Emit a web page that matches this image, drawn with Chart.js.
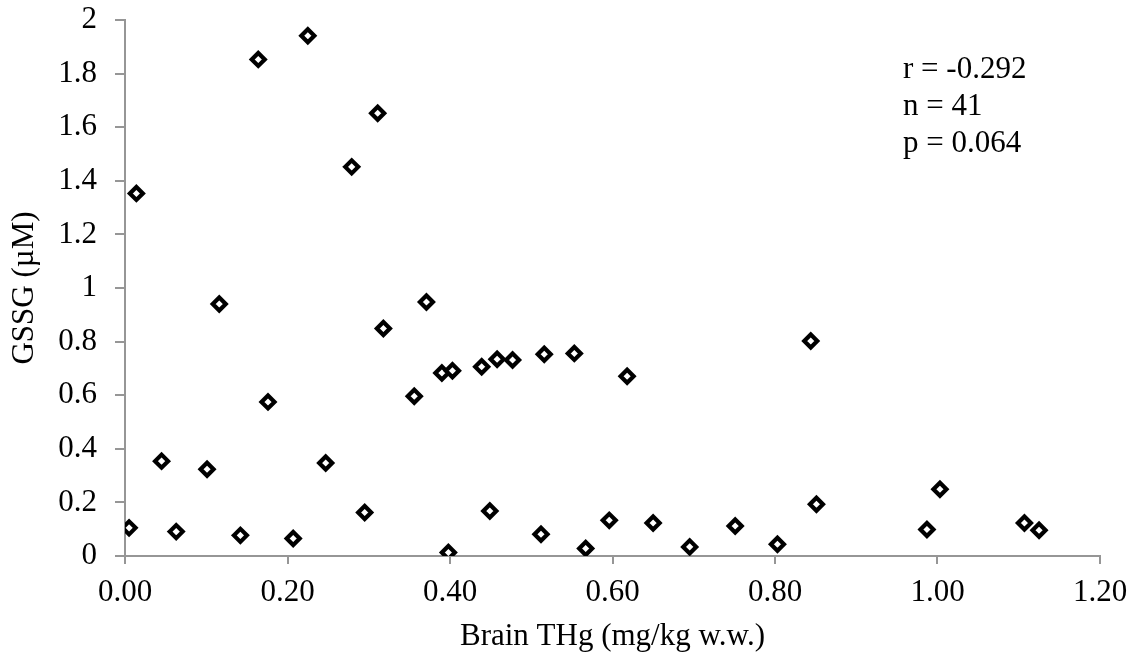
<!DOCTYPE html>
<html>
<head>
<meta charset="utf-8">
<script src="https://cdn.jsdelivr.net/npm/chart.js@4"></script>
<style>
  body { margin: 0; background: #fff; }
</style>
</head>
<body>
<canvas id="chart" width="1139" height="659"></canvas>
<script>
// Brain THg (mg/kg w.w.)
const brainTHg = [
    0.005, 0.014, 0.045, 0.063, 0.101, 0.116, 0.142, 0.164, 0.176, 0.207,
    0.225, 0.247, 0.279, 0.295, 0.311, 0.318, 0.356, 0.371, 0.390, 0.398,
    0.403, 0.439, 0.449, 0.458, 0.477, 0.512, 0.516, 0.553, 0.567, 0.596,
    0.618, 0.650, 0.695, 0.751, 0.803, 0.844, 0.851, 0.987, 1.003, 1.107,
    1.125
];
// GSSG (µM)
const gssg = [
    0.105, 1.353, 0.354, 0.091, 0.324, 0.940, 0.077, 1.853, 0.575, 0.065,
    1.941, 0.347, 1.452, 0.162, 1.652, 0.849, 0.596, 0.948, 0.683, 0.013,
    0.691, 0.706, 0.168, 0.734, 0.731, 0.081, 0.753, 0.756, 0.028, 0.133,
    0.671, 0.123, 0.034, 0.112, 0.044, 0.802, 0.193, 0.099, 0.249, 0.123,
    0.096
];
const statsLines = ['r = -0.292', 'n = 41', 'p = 0.064'];

const axisGray = '#969696';
const serif = "'Liberation Serif', 'Times New Roman', serif";

const points = brainTHg.map((x, i) => ({ x: x, y: gssg[i] }));

// caja de texto con r, n, p
const statsText = {
    id: 'statsText',
    afterDraw(chart) {
        const { ctx } = chart;
        ctx.save();
        ctx.font = '31px ' + serif;
        ctx.fillStyle = '#000';
        ctx.textAlign = 'left';
        ctx.textBaseline = 'alphabetic';
        statsLines.forEach((t, i) => {
            ctx.fillText(t, 903, 78 + i * 37);
        });
        ctx.restore();
    }
};

const config = {
    type: 'scatter',
    data: {
        datasets: [{
            data: points,
            pointStyle: 'rectRot',
            pointRadius: 6.5,
            pointBorderWidth: 4.2,
            pointBorderColor: '#000',
            pointBackgroundColor: '#fff',
            showLine: false
        }]
    },
    options: {
        responsive: false,
        animation: false,
        events: [],
        layout: {
            padding: { top: 20, right: 39, bottom: 0, left: 0 }
        },
        plugins: {
            legend: { display: false },
            tooltip: { enabled: false }
        },
        scales: {
            x: {
                type: 'linear',
                min: 0,
                max: 1.2,
                afterFit(scale) {
                    scale.height = 103;
                    scale.paddingLeft = 0;
                    scale.paddingRight = 0;
                },
                border: { display: true, color: axisGray, width: 2 },
                grid: { drawOnChartArea: false, drawTicks: true, tickLength: 8, color: axisGray, lineWidth: 2 },
                ticks: {
                    stepSize: 0.2,
                    padding: 10,
                    color: '#000',
                    font: { family: serif, size: 31 },
                    maxRotation: 0,
                    callback: (v) => v.toFixed(2)
                },
                title: {
                    display: true,
                    text: 'Brain THg (mg/kg w.w.)',
                    color: '#000',
                    font: { family: serif, size: 31, lineHeight: 1.2 },
                    padding: { top: 0, bottom: 4 }
                }
            },
            y: {
                type: 'linear',
                min: 0,
                max: 2,
                afterFit(scale) {
                    scale.width = 125;
                    scale.paddingTop = 0;
                    scale.paddingBottom = 0;
                },
                border: { display: true, color: axisGray, width: 2 },
                grid: { drawOnChartArea: false, drawTicks: true, tickLength: 10, color: axisGray, lineWidth: 2 },
                ticks: {
                    stepSize: 0.2,
                    padding: 18,
                    color: '#000',
                    font: { family: serif, size: 31 },
                    callback: (v) => String(Number(v.toFixed(1)))
                },
                title: {
                    display: true,
                    text: 'GSSG (µM)',
                    color: '#000',
                    font: { family: serif, size: 31, lineHeight: 1.2 },
                    padding: { top: 6, bottom: 0 }
                }
            }
        }
    },
    plugins: [statsText]
};

var chart = document.getElementById('chart');
var myChart = new Chart(chart, config);
</script>
</body>
</html>
